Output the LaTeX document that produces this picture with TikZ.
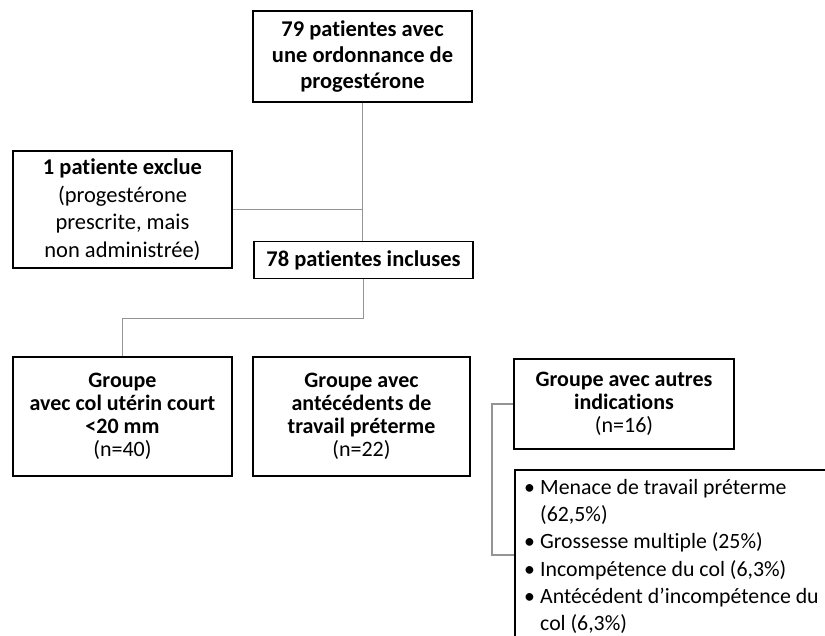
\documentclass[tikz,border=0pt]{standalone}
\usepackage{fontspec}
\setmainfont{Carlito}[Ligatures={NoCommon}]
\begin{document}
\begin{tikzpicture}[x=1pt,y=-1pt,
  box/.style={draw=black, line width=1.8pt, align=center, inner sep=0pt, font=\fontsize{22.5}{26}\selectfont},
  conn/.style={draw=black!42, line width=1.8pt},
]
\useasboundingbox (0,0) rectangle (825,635);
\node[box, minimum width=219, minimum height=91] (top) at (362.5,56.5)
  {\textbf{79 patientes avec}\\\textbf{une ordonnance de}\\\textbf{progestérone}};
\node[box, minimum width=219, minimum height=117, font=\fontsize{22.5}{27.5}\selectfont] (excl) at (122.5,209.5)
  {\textbf{1 patiente exclue}\\(progestérone\\prescrite, mais\\non administrée)};
\node[box, minimum width=219, minimum height=37] (incl) at (363.5,260)
  {\textbf{78 patientes incluses}};
\node[box, minimum width=219, minimum height=119, font=\fontsize{22}{23}\selectfont] (g1) at (122.5,416.5)
  {\textbf{Groupe}\\\textbf{avec col utérin court}\\\textbf{<20 mm}\\(n=40)};
\node[box, minimum width=217, minimum height=119, font=\fontsize{22}{23}\selectfont] (g2) at (361.5,416.5)
  {\textbf{Groupe avec}\\\textbf{antécédents de}\\\textbf{travail préterme}\\(n=22)};
\node[box, minimum width=220, minimum height=90, font=\fontsize{22}{23}\selectfont] (g3) at (624,404)
  {\textbf{Groupe avec autres}\\\textbf{indications}\\(n=16)};
\node[draw=black, line width=1.8pt, anchor=north west, minimum width=340, minimum height=200, inner sep=0pt] (lbox) at (514,469) {};
\node[anchor=north west, align=left, inner sep=0pt, font=\fontsize{21.8}{27.3}\selectfont] (list) at (524,479)
  {\makebox[16pt][l]{\textbullet}Menace de travail préterme\\
   \hspace*{16pt}(62,5\%)\\
   \makebox[16pt][l]{\textbullet}Grossesse multiple (25\%)\\
   \makebox[16pt][l]{\textbullet}Incompétence du col (6,3\%)\\
   \makebox[16pt][l]{\textbullet}Antécédent d’incompétence du\\
   \hspace*{16pt}col (6,3\%)};
\coordinate (lb) at (514,555);
\draw[conn] (top.south) -- (top.south |- incl.north);
\draw[conn] (excl.east) -- (excl.east -| top.south);
\draw[conn] (incl.south) -- ++(0,39) -| (g1.north);
\draw[conn] (g3.west) -- ++(-21,0) |- (lb);
\end{tikzpicture}
\end{document}
